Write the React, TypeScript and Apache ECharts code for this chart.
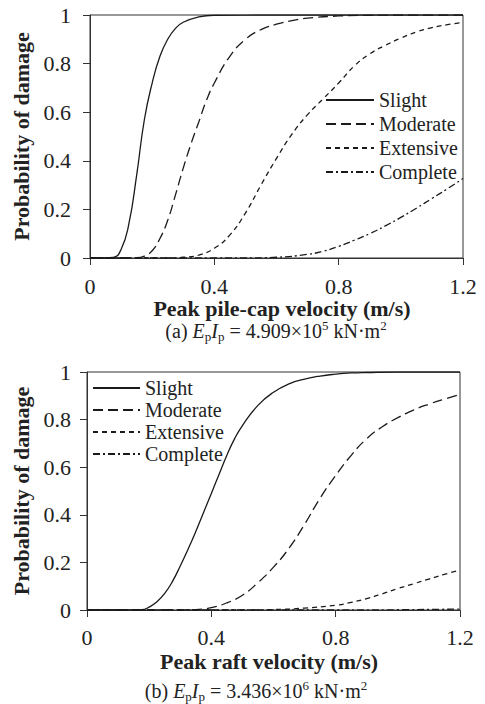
import React, { useEffect, useRef } from "react";
import * as echarts from "echarts";

const FONT = "'Liberation Serif', 'Times New Roman', serif";

const seriesNames = ["Slight", "Moderate", "Extensive", "Complete"];
const xTicks = [0, 0.4, 0.8, 1.2];

// Panel (a): E_p I_p = 4.909e5 kN·m²
const aSlightX = [0, 0.05, 0.075, 0.1, 0.125, 0.15, 0.175, 0.2, 0.225, 0.25, 0.275, 0.3, 0.35, 0.4, 0.6, 0.8, 1.0, 1.2];
const aSlightY = [0, 0, 0.002, 0.035, 0.14, 0.34, 0.57, 0.72, 0.83, 0.9, 0.945, 0.97, 0.992, 0.999, 1, 1, 1, 1];

const aModerateX = [0, 0.1, 0.15, 0.175, 0.2, 0.225, 0.25, 0.275, 0.3, 0.325, 0.35, 0.375, 0.4, 0.45, 0.5, 0.55, 0.6, 0.65, 0.7, 0.8, 0.9, 1.0, 1.2];
const aModerateY = [0, 0, 0.001, 0.008, 0.03, 0.08, 0.155, 0.26, 0.37, 0.47, 0.56, 0.65, 0.72, 0.83, 0.9, 0.94, 0.962, 0.977, 0.987, 0.996, 0.999, 1, 1];

const aExtensiveX = [0, 0.25, 0.3, 0.35, 0.4, 0.45, 0.5, 0.55, 0.6, 0.65, 0.7, 0.75, 0.8, 0.85, 0.9, 0.95, 1.0, 1.05, 1.1, 1.15, 1.2];
const aExtensiveY = [0, 0, 0.003, 0.012, 0.04, 0.095, 0.185, 0.3, 0.41, 0.51, 0.59, 0.655, 0.72, 0.79, 0.84, 0.875, 0.905, 0.93, 0.948, 0.96, 0.97];

const aCompleteX = [0, 0.5, 0.6, 0.7, 0.75, 0.8, 0.85, 0.9, 0.95, 1.0, 1.05, 1.1, 1.15, 1.2];
const aCompleteY = [0, 0, 0.003, 0.015, 0.028, 0.048, 0.073, 0.1, 0.132, 0.167, 0.205, 0.245, 0.285, 0.327];

// Panel (b): E_p I_p = 3.436e6 kN·m²
const bSlightX = [0, 0.15, 0.175, 0.2, 0.225, 0.25, 0.275, 0.3, 0.325, 0.35, 0.375, 0.4, 0.425, 0.45, 0.475, 0.5, 0.55, 0.6, 0.65, 0.7, 0.75, 0.8, 0.85, 0.9, 1.0, 1.2];
const bSlightY = [0, 0, 0.001, 0.012, 0.035, 0.07, 0.12, 0.185, 0.255, 0.33, 0.41, 0.49, 0.57, 0.65, 0.72, 0.775, 0.86, 0.915, 0.95, 0.97, 0.983, 0.991, 0.996, 0.998, 1, 1];

const bModerateX = [0, 0.3, 0.35, 0.4, 0.45, 0.5, 0.55, 0.6, 0.65, 0.7, 0.75, 0.8, 0.85, 0.9, 0.95, 1.0, 1.05, 1.1, 1.15, 1.2];
const bModerateY = [0, 0, 0.002, 0.01, 0.03, 0.062, 0.115, 0.18, 0.26, 0.36, 0.47, 0.565, 0.65, 0.72, 0.77, 0.808, 0.84, 0.865, 0.886, 0.905];

const bExtensiveX = [0, 0.5, 0.6, 0.7, 0.8, 0.85, 0.9, 0.95, 1.0, 1.05, 1.1, 1.15, 1.2];
const bExtensiveY = [0, 0, 0.002, 0.008, 0.02, 0.032, 0.048, 0.068, 0.09, 0.11, 0.13, 0.15, 0.167];

const bCompleteX = [0, 0.8, 1.0, 1.2];
const bCompleteY = [0, 0, 0.001, 0.004];

const zip = (xs: number[], ys: number[]) => xs.map((x, i) => [x, ys[i]]);

const dashTypes: Record<string, any> = {
  Slight: "solid",
  Moderate: [10, 5],
  Extensive: [5, 4],
  Complete: [7, 3, 2, 3],
};

const LINE = "#1a1a1a";
const AXIS = "#333";
const TEXT = "#222";

const tickRich = { v: { fontFamily: FONT, fontSize: 22, color: TEXT } };
const nameRich = { n: { fontFamily: FONT, fontSize: 22, fontWeight: "bold", color: TEXT } };
const legendRich = { n: { fontFamily: FONT, fontSize: 20, color: TEXT, lineHeight: 20 } };

function makeSeries(name: string, xs: number[], ys: number[], idx: number) {
  return {
    type: "line",
    name,
    xAxisIndex: idx,
    yAxisIndex: idx,
    data: zip(xs, ys),
    symbol: "none",
    showSymbol: false,
    smooth: 0.5,
    lineStyle: { color: LINE, width: 1.3, type: dashTypes[name] },
    itemStyle: { color: LINE },
    emphasis: { disabled: true },
  };
}

function makeXAxis(idx: number, name: string, nameGap: number, labelMargin: number, namePad: number[]) {
  return {
    gridIndex: idx,
    type: "value",
    min: 0,
    max: 1.2,
    interval: 0.4,
    name: `{n|${name}}`,
    nameLocation: "middle",
    nameGap,
    nameTextStyle: { fontFamily: FONT, fontSize: 22, fontWeight: "bold", color: TEXT, rich: nameRich, padding: namePad },
    axisLine: { show: true, lineStyle: { color: AXIS, width: 1 } },
    axisTick: { show: true, inside: false, length: 7, lineStyle: { color: AXIS, width: 1 } },
    axisLabel: {
      fontFamily: FONT,
      fontSize: 22,
      color: TEXT,
      margin: labelMargin,
      rich: tickRich,
      formatter: (v: number) => {
        const t = xTicks.find((k) => Math.abs(k - v) < 1e-6);
        return t === undefined ? "" : `{v|${t}}`;
      },
    },
    splitLine: { show: false },
  };
}

function makeYAxis(idx: number, labelMargin: number) {
  return {
    gridIndex: idx,
    type: "value",
    min: 0,
    max: 1,
    interval: 0.2,
    name: "{n|Probability of damage}",
    nameLocation: "middle",
    nameGap: 46,
    nameTextStyle: { fontFamily: FONT, fontSize: 22, fontWeight: "bold", color: TEXT, rich: nameRich },
    axisLine: { show: true, lineStyle: { color: AXIS, width: 1 } },
    axisTick: { show: true, inside: false, length: 7, lineStyle: { color: AXIS, width: 1 } },
    axisLabel: {
      fontFamily: FONT,
      fontSize: 22,
      color: TEXT,
      margin: labelMargin,
      rich: tickRich,
      formatter: (v: number) => `{v|${Math.round(v * 10) / 10}}`,
    },
    splitLine: { show: false },
  };
}

const rich = {
  t: { fontFamily: FONT, fontSize: 20, lineHeight: 24, verticalAlign: "middle", color: TEXT },
  i: { fontFamily: FONT, fontSize: 20, fontStyle: "italic", lineHeight: 24, verticalAlign: "middle", color: TEXT },
  s: { fontFamily: FONT, fontSize: 13, lineHeight: 2, verticalAlign: "bottom", color: TEXT },
  u: { fontFamily: FONT, fontSize: 13, lineHeight: 18, verticalAlign: "top", color: TEXT },
};

function caption(label: string, mant: string, exp: string, x: number, y: number) {
  return {
    type: "text",
    x,
    y,
    silent: true,
    style: {
      text: `{t|(${label}) }{i|E}{s|p}{i|I}{s|p}{t| = ${mant}×10}{u|${exp}}{t| kN·m}{u|2}`,
      rich,
      fill: TEXT,
      fontFamily: FONT,
      align: "center",
      verticalAlign: "middle",
      textAlign: "center",
      textVerticalAlign: "middle",
    },
  };
}

function makeLegend(left: number, top: number, itemWidth: number, itemGap: number) {
  return {
    data: seriesNames,
    orient: "vertical",
    left,
    top,
    itemWidth,
    itemHeight: 14,
    itemGap,
    selectedMode: false,
    padding: 0,
    itemStyle: { opacity: 0, color: "transparent", borderWidth: 0 },
    formatter: (name: string) => `{n|${name}}`,
    textStyle: { fontFamily: FONT, fontSize: 20, color: TEXT, lineHeight: 20, rich: legendRich },
  };
}

export default function App() {
  const ref = useRef<HTMLDivElement>(null);
  useEffect(() => {
    document.body.style.margin = "0";
    if (!ref.current) return;
    const chart = echarts.init(ref.current, null, { renderer: "svg" });
    const option: any = {
      animation: false,
      backgroundColor: "#fff",
      textStyle: { fontFamily: FONT, color: TEXT },
      grid: [
        { left: 90, top: 15, width: 373, height: 243, show: true, borderColor: AXIS, borderWidth: 1, backgroundColor: "transparent" },
        { left: 87, top: 372, width: 373, height: 238, show: true, borderColor: AXIS, borderWidth: 1, backgroundColor: "transparent" },
      ],
      xAxis: [
        makeXAxis(0, "Peak pile-cap velocity (m/s)", 35, 17, [0, 0, 0, 11]),
        makeXAxis(1, "Peak raft velocity (m/s)", 40, 16, [0, 9, 0, 0]),
      ],
      yAxis: [makeYAxis(0, 19), makeYAxis(1, 16)],
      legend: [makeLegend(325, 90, 48, 4), makeLegend(92, 378, 47, 2)],
      series: [
        makeSeries("Slight", aSlightX, aSlightY, 0),
        makeSeries("Moderate", aModerateX, aModerateY, 0),
        makeSeries("Extensive", aExtensiveX, aExtensiveY, 0),
        makeSeries("Complete", aCompleteX, aCompleteY, 0),
        makeSeries("Slight", bSlightX, bSlightY, 1),
        makeSeries("Moderate", bModerateX, bModerateY, 1),
        makeSeries("Extensive", bExtensiveX, bExtensiveY, 1),
        makeSeries("Complete", bCompleteX, bCompleteY, 1),
      ],
      graphic: [caption("a", "4.909", "5", 276, 331), caption("b", "3.436", "6", 256, 691)],
    };
    chart.setOption(option);
    return () => chart.dispose();
  }, []);
  return <div ref={ref} style={{ width: 485, height: 704 }} />;
}
